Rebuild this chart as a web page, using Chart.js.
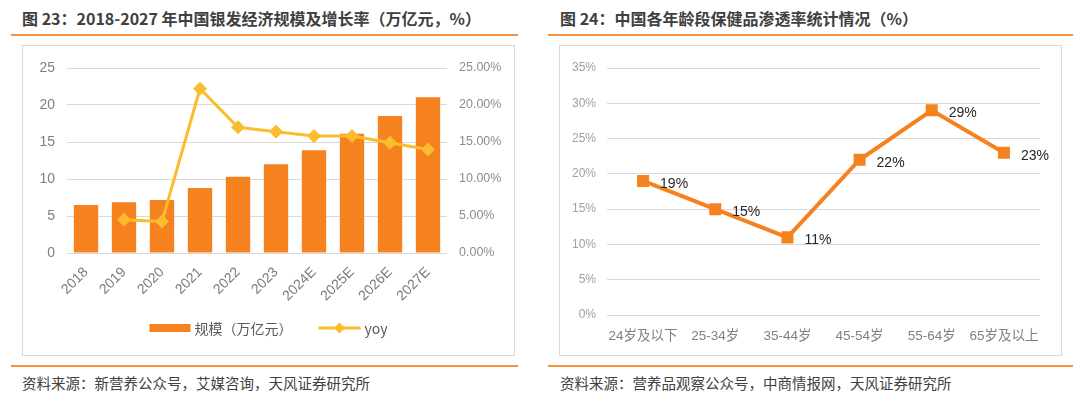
<!DOCTYPE html>
<html>
<head>
<meta charset="utf-8">
<script src="https://cdn.jsdelivr.net/npm/chart.js@4.4.1/dist/chart.umd.min.js"></script>
<style>
  body { margin: 0; width: 1080px; height: 398px; background: #fff; position: relative; overflow: hidden;
         font-family: "Noto Sans CJK SC", sans-serif; }
  .title { position: absolute; top: 6px; font-size: 16px; font-weight: bold; color: #404040; line-height: 24px; white-space: nowrap; }
  .rule { position: absolute; height: 2px; background: #F7913D; }
  .box { position: absolute; top: 45px; height: 311px; border: 1px solid #D9D9D9; box-sizing: border-box; background: #fff; }
  .src { position: absolute; top: 373px; font-size: 14.5px; color: #404040; line-height: 20px; white-space: nowrap; }
  canvas { position: absolute; }
</style>
</head>
<body>
<div class="title" style="left:22px">图 23：2018-2027 年中国银发经济规模及增长率（万亿元，%）</div>
<div class="rule" style="left:11px;width:507px;top:34px"></div>
<div class="box" style="left:22px;width:493px"></div>
<div class="rule" style="left:11px;width:507px;top:365px"></div>
<div class="src" style="left:22px">资料来源：新营养公众号，艾媒咨询，天风证券研究所</div>

<div class="title" style="left:560px">图 24：中国各年龄段保健品渗透率统计情况（%）</div>
<div class="rule" style="left:548px;width:525px;top:34px"></div>
<div class="box" style="left:559px;width:503px"></div>
<div class="rule" style="left:548px;width:525px;top:365px"></div>
<div class="src" style="left:560px">资料来源：营养品观察公众号，中商情报网，天风证券研究所</div>

<canvas id="scaleChart" style="left:23px;top:46px;width:491px;height:309px" width="491" height="309"></canvas>
<canvas id="ageChart" style="left:560px;top:46px;width:501px;height:309px" width="501" height="309"></canvas>

<script>
// chart 23: silver economy size and growth
const years = ['2018', '2019', '2020', '2021', '2022', '2023', '2024E', '2025E', '2026E', '2027E'];
const scaleValues = [6.5, 6.85, 7.15, 8.8, 10.3, 12.0, 13.9, 16.1, 18.5, 21.05];
const yoyValues = [null, 4.5, 4.25, 22.2, 17.0, 16.4, 15.8, 15.8, 14.9, 14.0];
const scaleTicks = [0, 5, 10, 15, 20, 25];

// chart 24: supplement penetration by age group
const ageGroups = ['24岁及以下', '25-34岁', '35-44岁', '45-54岁', '55-64岁', '65岁及以上'];
const penetration = [19, 15, 11, 22, 29, 23];
const rateTicks = [0, 5, 10, 15, 20, 25, 30, 35];

const BAR = '#F5821F';
const YOY = '#FBBC2E';
const tickFont = { family: '"Liberation Sans", "Noto Sans CJK SC"', size: 14 };

const barLegend = {
  id: 'barLegend',
  afterDraw(chart) {
    const ctx = chart.ctx;
    const ds = chart.data.datasets;
    ctx.save();
    ctx.font = '14px "Noto Sans CJK SC"';
    const w1 = ctx.measureText(ds[0].label).width;
    const w2 = ctx.measureText(ds[1].label).width;
    const total = 41 + 4 + w1 + 26 + 42 + 4 + w2;
    let x = (chart.width - total) / 2;
    const y = 282;
    ctx.fillStyle = BAR;
    ctx.fillRect(x, y - 4, 41, 8);
    x += 45;
    ctx.fillStyle = '#595959';
    ctx.textBaseline = 'middle';
    ctx.fillText(ds[0].label, x, y + 1);
    x += w1 + 26;
    ctx.strokeStyle = YOY;
    ctx.lineWidth = 3;
    ctx.beginPath();
    ctx.moveTo(x, y);
    ctx.lineTo(x + 42, y);
    ctx.stroke();
    ctx.fillStyle = YOY;
    ctx.beginPath();
    ctx.moveTo(x + 21, y - 5.5);
    ctx.lineTo(x + 26.5, y);
    ctx.lineTo(x + 21, y + 5.5);
    ctx.lineTo(x + 15.5, y);
    ctx.closePath();
    ctx.fill();
    x += 46;
    ctx.fillStyle = '#595959';
    ctx.fillText(ds[1].label, x, y + 1);
    ctx.restore();
  }
};

new Chart(document.getElementById('scaleChart'), {
  data: {
    labels: years,
    datasets: [{
      type: 'bar',
      label: '规模（万亿元）',
      data: scaleValues,
      backgroundColor: BAR,
      barPercentage: 1,
      categoryPercentage: 0.64,
      yAxisID: 'y',
      order: 2
    }, {
      type: 'line',
      label: 'yoy',
      data: yoyValues,
      borderColor: YOY,
      backgroundColor: YOY,
      borderWidth: 3,
      pointStyle: 'rectRot',
      pointRadius: 6.5,
      pointBorderWidth: 1,
      spanGaps: false,
      yAxisID: 'y1',
      order: 1
    }]
  },
  options: {
    responsive: false,
    animation: false,
    layout: { padding: { top: 22, left: 0, right: 0, bottom: 0 } },
    plugins: { legend: { display: false }, tooltip: { enabled: false } },
    scales: {
      x: {
        grid: { display: false },
        border: { display: false },
        ticks: { color: '#7A7A7A', font: { ...tickFont, size: 14 }, maxRotation: 45, minRotation: 45, padding: 3 },
        afterFit(s) { s.height = 102; }
      },
      y: {
        position: 'left',
        min: 0, max: 25,
        afterBuildTicks(s) { s.ticks = scaleTicks.map(v => ({ value: v })); },
        grid: { color: '#D9D9D9', drawTicks: false },
        border: { display: false },
        ticks: { color: '#808080', font: tickFont, padding: 12 },
        afterFit(s) { s.width = 44; }
      },
      y1: {
        position: 'right',
        min: 0, max: 25,
        afterBuildTicks(s) { s.ticks = scaleTicks.map(v => ({ value: v })); },
        grid: { display: false, drawTicks: false },
        border: { display: false },
        ticks: { color: '#8C8C8C', font: { ...tickFont, size: 12.5 }, padding: 12,
                 callback: v => v.toFixed(2) + '%' },
        afterFit(s) { s.width = 67; }
      }
    }
  },
  plugins: [barLegend]
});

const pointLabels = {
  id: 'pointLabels',
  afterDatasetsDraw(chart) {
    const ctx = chart.ctx;
    const meta = chart.getDatasetMeta(0);
    ctx.save();
    ctx.font = '14px "Liberation Sans"';
    ctx.fillStyle = '#262626';
    ctx.textAlign = 'left';
    ctx.textBaseline = 'middle';
    meta.data.forEach((pt, i) => {
      ctx.fillText(penetration[i] + '%', pt.x + 17, pt.y + 3);
    });
    ctx.restore();
  }
};

new Chart(document.getElementById('ageChart'), {
  type: 'line',
  data: {
    labels: ageGroups,
    datasets: [{
      label: '渗透率',
      data: penetration,
      borderColor: BAR,
      backgroundColor: BAR,
      borderWidth: 4,
      pointStyle: 'rect',
      pointRadius: 8.5,
      pointBorderWidth: 0
    }]
  },
  options: {
    responsive: false,
    animation: false,
    layout: { padding: { top: 22, left: 0, right: 21, bottom: 0 } },
    plugins: { legend: { display: false }, tooltip: { enabled: false } },
    scales: {
      x: {
        offset: true,
        grid: { display: false },
        border: { display: false },
        ticks: { color: '#808080', font: { family: '"Liberation Sans", "Noto Sans CJK SC"', size: 13.5 }, padding: 5, maxRotation: 0 },
        afterFit(s) { s.height = 40; }
      },
      y: {
        min: 0, max: 35,
        afterBuildTicks(s) { s.ticks = rateTicks.map(v => ({ value: v })); },
        grid: { color: '#D9D9D9', drawTicks: false },
        border: { display: false },
        ticks: { color: '#A0A0A0', font: { family: '"Liberation Sans"', size: 12 }, padding: 11,
                 callback: v => v + '%' },
        afterFit(s) { s.width = 47; }
      }
    }
  },
  plugins: [pointLabels]
});
</script>
</body>
</html>
